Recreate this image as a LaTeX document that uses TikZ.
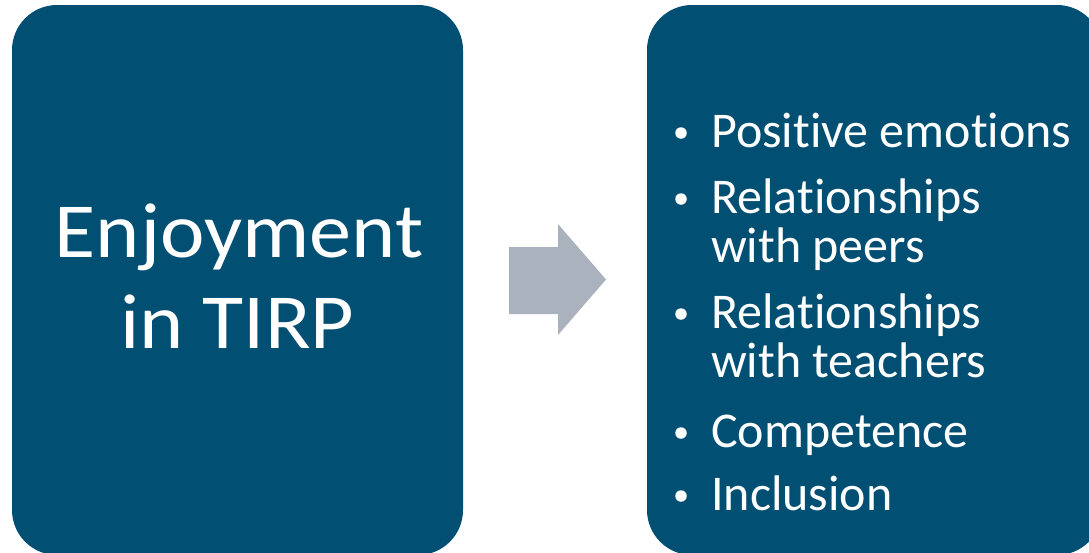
\documentclass[tikz,border=0pt]{standalone}
\usepackage{fontspec}
\setmainfont[Ligatures={NoCommon,NoContextual}, Contextuals=NoAlternate]{Carlito}
\newfontfamily\widefont[Ligatures={NoCommon,NoContextual}, Contextuals=NoAlternate, FakeStretch=1.08]{Carlito}
\definecolor{panelblue}{RGB}{2,79,116}
\definecolor{arrowgray}{RGB}{170,178,189}
\tikzset{
  panel/.style={fill=panelblue, draw=none, rounded corners=45pt, inner sep=0pt, outer sep=0pt, anchor=north west},
  bigtext/.style={text=white, anchor=base, inner sep=0pt, font=\widefont\fontsize{78}{90}\selectfont},
  itemtext/.style={text=white, anchor=base west, inner sep=0pt, font=\fontsize{50}{60}\selectfont},
  bulletdot/.style={circle, fill=white, inner sep=0pt, minimum size=11.5pt},
}
\begin{document}
\begin{tikzpicture}[x=1pt,y=-1pt]
  \useasboundingbox (0,0) rectangle (1089,552);
  \clip (0,0) rectangle (1089,552);
  % two panels
  \node[panel, minimum width=451pt, minimum height=550pt] (left) at (12,5) {};
  \node[panel, minimum width=455pt, minimum height=550pt] (right) at (647,5) {};
  % block arrow between them
  \fill[arrowgray] (509,247) -- (558,247) -- (558,224) -- (606,279.5)
     -- (558,335) -- (558,314) -- (509,314) -- cycle;
  % left label
  \node[bigtext] (l1) at (239,257) {Enjoyment};
  \node[bigtext] (l2) at (237.5,348) {in TIRP};
  % right list (kern keeps t and i as separate glyphs)
  \node[itemtext] (i1) at (711,147) {Posit\kern0pt ive emot\kern0pt ions};
  \node[itemtext] (i2) at (711,213) {Relat\kern0pt ionships};
  \node[itemtext] (i2b) at (711,262) {with peers};
  \node[itemtext] (i3) at (711,328) {Relat\kern0pt ionships};
  \node[itemtext] (i3b) at (711,377) {with teachers};
  \node[itemtext] (i4) at (711,447) {Competence};
  \node[itemtext] (i5) at (711,510) {Inclusion};
  \node[bulletdot] (b1) at (681,133) {};
  \node[bulletdot] (b2) at (681,199) {};
  \node[bulletdot] (b3) at (681,314) {};
  \node[bulletdot] (b4) at (681,433) {};
  \node[bulletdot] (b5) at (681,496) {};
\end{tikzpicture}
\end{document}
